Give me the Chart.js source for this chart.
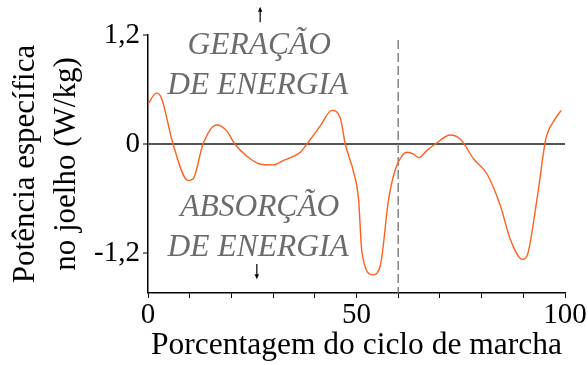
<!DOCTYPE html>
<html>
<head>
<meta charset="utf-8">
<script src="https://cdn.jsdelivr.net/npm/chart.js@4/dist/chart.umd.min.js"></script>
<style>
  html, body { margin: 0; padding: 0; background: #fff; }
  #c { display: block; }
</style>
</head>
<body>
<canvas id="c" width="588" height="365"></canvas>
<script>
// ---- data ----
const cyclePct = [0, 2, 3.2, 6, 9.6, 10.8, 13.2, 16.4, 18.8, 20.8, 23.6, 26.8, 30, 32.5, 36.5, 38.1, 41.3, 44.1, 46.1, 47.3, 49.3, 50.5, 51.3, 53.9, 55.7, 57.7, 59.3, 60.9, 62.1, 63.7, 64.9, 66.9, 68.9, 72.5, 74.9, 78.1, 81.3, 84.5, 86.9, 89.8, 90.9, 93.4, 95.4, 97.4, 99.1];
const kneePower = [0.44, 0.56, 0.51, 0, -0.40, -0.385, 0, 0.21, 0.15, 0, -0.13, -0.22, -0.23, -0.18, -0.09, 0, 0.20, 0.37, 0.29, 0, -0.31, -0.61, -1.19, -1.44, -1.34, -0.61, -0.28, -0.13, -0.09, -0.11, -0.15, -0.07, 0, 0.10, 0.055, -0.165, -0.33, -0.68, -1.05, -1.27, -1.23, -0.57, 0.055, 0.26, 0.37];
const toeOffPct = 60;
const yTickValues = [-1.2, 0, 1.2];
const xLabelValues = [0, 50, 100];
const yTitleLines = ['Potência específica', 'no joelho (W/kg)'];
const xTitle = 'Porcentagem do ciclo de marcha';
const annotationTexts = ['GERAÇÃO', 'DE ENERGIA', 'ABSORÇÃO', 'DE ENERGIA'];

const SERIF = "'Liberation Serif', 'Times New Roman', serif";

const curvePoints = cyclePct.map((x, i) => ({ x: x, y: kneePower[i] }));

const annotations = {
  id: 'annotations',
  afterDraw(chart) {
    const ctx = chart.ctx;
    const xs = chart.scales.x, ys = chart.scales.y;
    ctx.save();
    ctx.font = 'italic 31.5px ' + SERIF;
    ctx.fillStyle = '#6b6b6b';
    ctx.textAlign = 'center';
    ctx.textBaseline = 'alphabetic';
    const pos = [[26.7, 0.99], [26.3, 0.55], [26.8, -0.79], [26.4, -1.23]];
    annotationTexts.forEach((t, i) => {
      ctx.fillText(t, xs.getPixelForValue(pos[i][0]), ys.getPixelForValue(pos[i][1]));
    });
    // arrows
    ctx.strokeStyle = '#000';
    ctx.fillStyle = '#000';
    ctx.lineWidth = 1.2;
    const up = { x: xs.getPixelForValue(26.9), y0: ys.getPixelForValue(1.34), y1: ys.getPixelForValue(1.51) };
    ctx.beginPath(); ctx.moveTo(up.x, up.y0); ctx.lineTo(up.x, up.y1 + 4); ctx.stroke();
    ctx.beginPath(); ctx.moveTo(up.x, up.y1); ctx.lineTo(up.x - 2.2, up.y1 + 5); ctx.lineTo(up.x + 2.2, up.y1 + 5); ctx.closePath(); ctx.fill();
    const dn = { x: xs.getPixelForValue(26.1), y0: ys.getPixelForValue(-1.32), y1: ys.getPixelForValue(-1.49) };
    ctx.beginPath(); ctx.moveTo(dn.x, dn.y0); ctx.lineTo(dn.x, dn.y1 - 4); ctx.stroke();
    ctx.beginPath(); ctx.moveTo(dn.x, dn.y1); ctx.lineTo(dn.x - 2.2, dn.y1 - 5); ctx.lineTo(dn.x + 2.2, dn.y1 - 5); ctx.closePath(); ctx.fill();
    ctx.restore();
  }
};

new Chart(document.getElementById('c'), {
  type: 'line',
  data: {
    datasets: [
      {
        data: curvePoints,
        borderColor: '#ff5f1f',
        borderWidth: 1.4,
        pointRadius: 0,
        cubicInterpolationMode: 'monotone',
        fill: false
      },
      {
        data: [{ x: toeOffPct, y: 1.145 }, { x: toeOffPct, y: -1.64 }],
        borderColor: '#7a7a7a',
        borderWidth: 1.4,
        borderDash: [9, 4],
        pointRadius: 0,
        fill: false
      }
    ]
  },
  options: {
    responsive: false,
    devicePixelRatio: 1,
    animation: false,
    layout: { padding: { top: 35, right: 23, left: 0, bottom: 0 } },
    plugins: { legend: { display: false }, tooltip: { enabled: false } },
    scales: {
      x: {
        type: 'linear',
        min: 0, max: 100,
        afterFit(s) { s.height = 72; },
        ticks: {
          stepSize: 10,
          autoSkip: false,
          maxRotation: 0,
          padding: 0,
          color: '#000',
          font: { family: SERIF, size: 29 },
          callback: v => xLabelValues.includes(v) ? String(v) : ''
        },
        grid: { drawOnChartArea: false, drawTicks: true, tickLength: 5, tickColor: '#000', color: '#000' },
        border: { color: '#000', width: 1.5 },
        title: {
          display: true, text: xTitle, color: '#000',
          font: { family: SERIF, size: 31.5, lineHeight: 1.2 },
          padding: { top: 0, bottom: 0 }
        }
      },
      y: {
        type: 'linear',
        min: -1.64, max: 1.2,
        afterFit(s) { s.width = 148; },
        afterBuildTicks(s) { s.ticks = yTickValues.map(v => ({ value: v })); },
        ticks: {
          padding: 3,
          color: '#000',
          font: { family: SERIF, size: 29 },
          callback: v => v === 0 ? '0' : v.toFixed(1).replace('.', ',')
        },
        grid: {
          color: c => (c.tick && c.tick.value === 0) ? '#555555' : 'rgba(0,0,0,0)',
          lineWidth: c => (c.tick && c.tick.value === 0) ? 2 : 0,
          drawTicks: true, tickLength: 5, tickColor: '#000', tickWidth: 1
        },
        border: { color: '#000', width: 1.5 },
        title: {
          display: true, text: yTitleLines, color: '#000',
          font: { family: SERIF, size: 31, lineHeight: 1.3 },
          padding: { top: 6, bottom: 0 }
        }
      }
    }
  },
  plugins: [annotations]
});
</script>
</body>
</html>
